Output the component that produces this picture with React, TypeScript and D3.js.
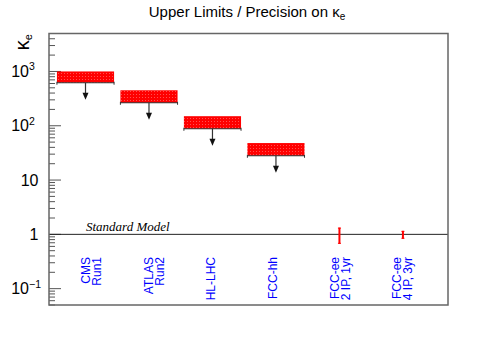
import React from 'react';
import * as d3 from 'd3';

// categories (x positions 0..5), each label may have two lines
const labels = [
  ['CMS', 'Run1'],
  ['ATLAS', 'Run2'],
  ['HL-LHC'],
  ['FCC-hh'],
  ['FCC-ee', '2 IP, 1yr'],
  ['FCC-ee', '4 IP, 3yr'],
];

// upper limit bands (index 0..3)
const limitHigh = [1000, 450, 150, 48];
const limitLow = [620, 265, 88, 28];

// precision at the SM value (index 4..5)
const precIndex = [4, 5];
const precCentral = [1, 1];
const precLow = [0.67, 0.83];
const precHigh = [1.33, 1.16];

const yMajor = [0.1, 1, 10, 100, 1000];
const yMajorLabels = [['10', '\u22121'], ['1', ''], ['10', ''], ['10', '2'], ['10', '3']];

const W = 498;
const H = 339;
const left = 49, right = 448, top = 33.5, bottom = 305;

export default function App() {
  const x = d3.scaleLinear().domain([-0.575, 5.71]).range([left, right]);
  const y = d3.scaleLog().domain([0.05, 5000]).range([bottom, top]);
  const labelX = d3.scaleLinear().domain([0, 5]).range([86, 397]);
  const bw = x(0.45) - x(0);

  const minor: number[] = [];
  for (let e = -2; e <= 3; e++) {
    for (let m = 2; m <= 9; m++) {
      const v = m * Math.pow(10, e);
      if (v >= 0.05 && v <= 5000) minor.push(v);
    }
  }

  return (
    <svg width={W} height={H} style={{ position: 'absolute', left: 0, top: 0, background: '#fff' }}>
      <defs>
        <pattern id="dots" width="3" height="3" patternUnits="userSpaceOnUse">
          <rect width="3" height="3" fill="#ff0000" />
          <rect x="1" y="1" width="1" height="1" fill="#ff5050" />
        </pattern>
      </defs>

      {/* title */}
      <text x={247} y={17} textAnchor="middle" fontFamily="Liberation Sans, Arial, sans-serif" fontSize={15}>
        Upper Limits / Precision on κ<tspan fontSize={10} dy={3}>e</tspan>
      </text>

      {/* y title */}
      <text transform="translate(28.5,34) rotate(-90)" textAnchor="end" fontFamily="Liberation Sans, Arial, sans-serif" fontSize={20}>
        κ<tspan fontSize={11} dy={3}>e</tspan>
      </text>

      {/* y ticks */}
      {minor.map((v, i) => (
        <line key={'m' + i} x1={left} x2={left + 6} y1={y(v)} y2={y(v)} stroke="#555" strokeWidth={1} />
      ))}
      {yMajor.map((v, i) => (
        <g key={'M' + i}>
          <line x1={left} x2={left + 12} y1={y(v)} y2={y(v)} stroke="#555" strokeWidth={1} />
          <text x={yMajorLabels[i][1] ? 29 : 38.5} y={y(v) + 5.7} textAnchor="end"
            fontFamily="Liberation Sans, Arial, sans-serif" fontSize={16}>
            {yMajorLabels[i][0]}
          </text>
          {yMajorLabels[i][1] && (
            <text x={29} y={y(v) - 1} fontFamily="Liberation Sans, Arial, sans-serif" fontSize={10.5}>
              {yMajorLabels[i][1]}
            </text>
          )}
        </g>
      ))}

      {/* Standard Model line */}
      <line x1={left} x2={right} y1={y(1)} y2={y(1)} stroke="#222" strokeWidth={1} />
      <text x={86} y={230.5} fontFamily="Liberation Serif, Times New Roman, serif" fontStyle="italic" fontSize={13}>
        Standard Model
      </text>

      {/* limit bands */}
      {limitHigh.map((hi, i) => {
        const cx = x(i);
        const yb = y(limitLow[i]);
        return (
          <g key={'b' + i}>
            <rect x={cx - bw} y={y(hi)} width={2 * bw} height={yb - y(hi)} fill="url(#dots)" />
            <line x1={cx - bw} x2={cx + bw} y1={yb} y2={yb} stroke="#333" strokeWidth={1.2} />
            <line x1={cx - bw} x2={cx - bw} y1={yb - 1} y2={yb + 2} stroke="#333" strokeWidth={1} />
            <line x1={cx + bw} x2={cx + bw} y1={yb - 1} y2={yb + 2} stroke="#333" strokeWidth={1} />
            <line x1={cx} x2={cx} y1={yb} y2={yb + 11} stroke="#333" strokeWidth={1.2} />
            <path d={`M${cx - 3},${yb + 10} L${cx + 3},${yb + 10} L${cx},${yb + 17} Z`} fill="#111" />
          </g>
        );
      })}

      {/* precision error bars */}
      {precIndex.map((k, i) => (
        <g key={'e' + i}>
          <line x1={x(k)} x2={x(k)} y1={y(precHigh[i])} y2={y(precLow[i])} stroke="#ff0000" strokeWidth={2} />
          <line x1={x(k) - 1.5} x2={x(k) + 1.5} y1={y(precHigh[i]) + 0.5} y2={y(precHigh[i]) + 0.5} stroke="#ff0000" strokeWidth={1} />
          <line x1={x(k) - 1.5} x2={x(k) + 1.5} y1={y(precLow[i]) - 0.5} y2={y(precLow[i]) - 0.5} stroke="#ff0000" strokeWidth={1} />
          <circle cx={x(k)} cy={y(precCentral[i])} r={0.8} fill="#ff0000" />
        </g>
      ))}

      {/* category labels */}
      {labels.map((ls, i) => (
        <text key={'l' + i} transform={`translate(${labelX(i) + 4.3},257) rotate(-90)`} textAnchor="end"
          fontFamily="Liberation Sans, Arial, sans-serif" fontSize={12} fill="#0000ff">
          {ls.map((s, j) => (
            <tspan key={j} x={0} y={j * 11}>{s}</tspan>
          ))}
        </text>
      ))}

      {/* frame */}
      <rect x={left} y={top} width={right - left} height={bottom - top} fill="none" stroke="#666" strokeWidth={1.5} />
    </svg>
  );
}
